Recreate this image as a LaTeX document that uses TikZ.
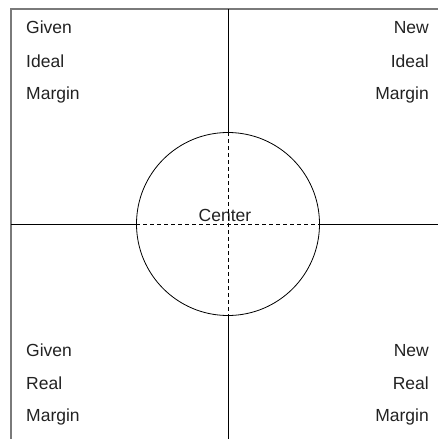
\documentclass[tikz,border=0pt]{standalone}
\usepackage{fontspec}
\setmainfont{Liberation Sans}
\usetikzlibrary{positioning}
\definecolor{frame}{HTML}{7A7A7A}
\definecolor{ink}{HTML}{222222}

\begin{document}
\begin{tikzpicture}[x=1pt,y=-1pt,font=\fontsize{17.5}{20}\selectfont,
     lbl/.style={inner sep=0pt,anchor=base west,text=ink},
     lbr/.style={inner sep=0pt,anchor=base east,text=ink},
     axis/.style={draw=black,line width=.8pt},
     rim/.style={draw=frame,line width=1.1pt},
     guide/.style={draw=black,line width=.8pt,dash pattern=on 4pt off 3pt}]
    \useasboundingbox (0,0) rectangle (438,439);
    \node[circle,draw,line width=.8pt,minimum size=183pt,inner sep=0pt](ctr) at (228,224){};
    \node[inner sep=0pt,anchor=base,text=ink](ctrtxt) at (225,221){Center};
    \coordinate(tl) at (11,9);   \coordinate(tr) at (438,9);   \coordinate(bl) at (11,439);
    \coordinate(lt) at (11,224); \coordinate(rt) at (438,224);
    \coordinate(tp) at (228,9);  \coordinate(bt) at (228,439);
    \draw[rim](bl)--(tl)--(tr);
    \draw[axis](tp)--(tp|-ctr.north); \draw[axis](bt|-ctr.south)--(bt);
    \draw[axis](lt)--(lt-|ctr.west);  \draw[axis](rt-|ctr.east)--(rt);
    \draw[guide](tp|-ctr.north)--(bt|-ctr.south); \draw[guide](lt-|ctr.west)--(rt-|ctr.east);
    % quadrant labels
    \node[lbl](g1) at (26,33){Given};  \node[lbl](i1) at (26,67){Ideal};  \node[lbl](m1) at (26,99){Margin};
    \node[lbr](n1) at (429,33){New};   \node[lbr](i2) at (429,67){Ideal}; \node[lbr](m2) at (429,99){Margin};
    \node[lbl](g2) at (26,356){Given}; \node[lbl](r1) at (26,389){Real};  \node[lbl](m3) at (26,421){Margin};
    \node[lbr](n2) at (429,356){New};  \node[lbr](r2) at (429,389){Real}; \node[lbr](m4) at (429,421){Margin};
  \end{tikzpicture}
\end{document}
